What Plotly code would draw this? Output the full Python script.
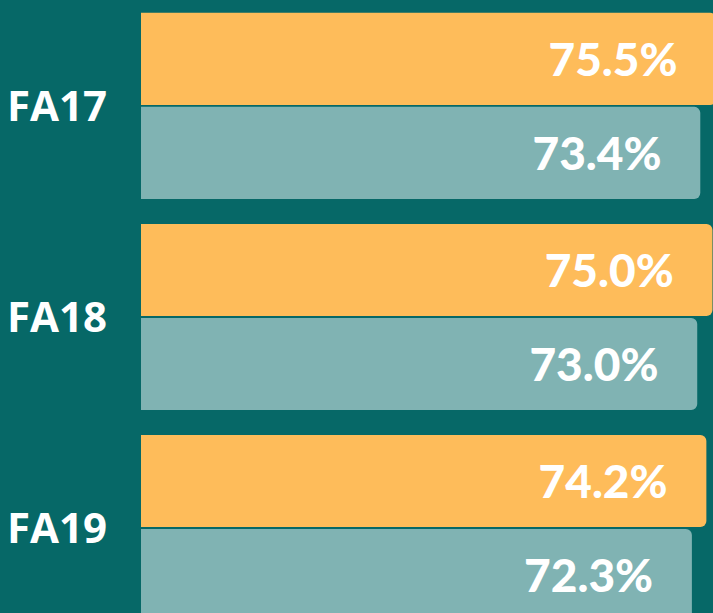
"""Fall-term rates – grouped horizontal bars on dark teal."""
import plotly.graph_objects as go

# ── Data ─────────────────────────────────────────────────────────────────────
terms = ["FA17", "FA18", "FA19"]
series_a = [75.5, 75.0, 74.2]   # orange
series_b = [73.4, 73.0, 72.3]   # light teal

# ── Design tokens ────────────────────────────────────────────────────────────
_BG     = "#066867"
_ORANGE = "#FEBC5A"
_TEAL   = "#80B3B3"
_WHITE  = "#FFFFFF"

_PAD = "\u00a0\u00a0\u00a0"


def _bar(values, color):
    return go.Bar(
        y=terms,
        x=values,
        orientation="h",
        marker=dict(color=color, cornerradius=6, line=dict(width=0)),
        texttemplate="%{x:.1f}%" + _PAD,
        textposition="inside",
        insidetextanchor="end",
        textfont=dict(family="Lato, sans-serif", size=46, color=_WHITE, weight=900),
        hoverinfo="skip",
        cliponaxis=True,
    )


fig = go.Figure([_bar(series_a, _ORANGE), _bar(series_b, _TEAL)])

fig.update_layout(
    width=713,
    height=613,
    paper_bgcolor=_BG,
    plot_bgcolor=_BG,
    margin=dict(l=141, r=0, t=0, b=0),
    barmode="group",
    bargap=0.109,
    bargroupgap=0.02,
    showlegend=False,
    xaxis=dict(
        range=[0, 75.07],
        visible=False,
        fixedrange=True,
    ),
    yaxis=dict(
        range=[2.403, -0.502],
        showgrid=False,
        zeroline=False,
        showline=False,
        ticks="",
        ticklabelstandoff=33,
        tickfont=dict(family="Open Sans, sans-serif", size=42, color=_WHITE, weight="bold"),
        fixedrange=True,
    ),
)

# drop the default page margin so the figure sits flush with the window
fig.write_html(
    "out.html",
    config={"displayModeBar": False},
    post_script="document.body.style.margin='0';document.body.style.overflow='hidden';",
)
